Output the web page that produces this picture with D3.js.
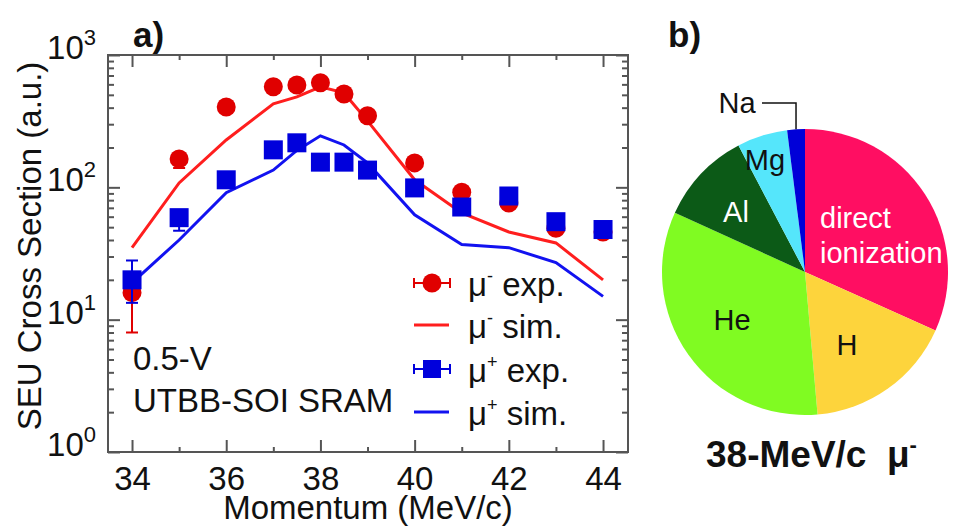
<!DOCTYPE html>
<html>
<head>
<meta charset="utf-8">
<script src="https://cdn.jsdelivr.net/npm/d3@7"></script>
<style>
body { margin: 0; background: #fff; }
text { font-family: Arial, "Liberation Sans", sans-serif; fill: #111; }
</style>
</head>
<body>
<svg id="chart" width="958" height="527"></svg>
<script>
// ---- data ----
const momentum = [34, 35, 36, 37, 37.5, 38, 38.5, 39, 40, 41, 42, 43, 44];

const muMinusExp  = [16, 164, 405, 575, 594, 617, 508, 347, 153, 92, 76, 49, 46];
const muMinusLow  = [8, 140, null, null, null, null, null, null, null, null, null, null, null];
const muMinusHigh = [22, 175, null, null, null, null, null, null, null, null, null, null, null];
const muMinusSim  = [35, 108, 228, 427, 482, 575, 517, 318, 114, 64, 46, 38, 20];

const muPlusExp  = [20, 59, 114, 192, 217, 155, 155, 135, 99, 71, 86, 55, 48];
const muPlusLow  = [13.4, 47, null, null, null, null, null, null, null, null, null, null, null];
const muPlusHigh = [28, 64, null, null, null, null, null, null, null, null, null, null, null];
const muPlusSim  = [19, 40, 91, 135, 190, 245, 209, 153, 62, 37, 35, 27, 15];

const xMajor = [34, 36, 38, 40, 42, 44];
const xMinor = [35, 37, 39, 41, 43];
const yMajor = [1, 10, 100, 1000];
const yExponents = ["0", "1", "2", "3"];

const pieLabels = ["direct ionization", "H", "He", "Al", "Mg", "Na"];
const pieValues = [31.7, 16.9, 33.2, 10.5, 5.7, 2.0];
const pieColors = ["#ff0e62", "#fdd43c", "#80fb22", "#0c5a17", "#55e6fb", "#0000d8"];

const red = "#e00000", redLine = "#ff1e1e";
const blue = "#0000dc", blueLine = "#1212f0";

const svg = d3.select("#chart");

// ---- panel a ----
const plot = {left: 108, right: 628, top: 55, bottom: 452};

const x = d3.scaleLinear().domain([33.49, 44.53]).range([plot.left, plot.right]);
const y = d3.scaleLog().domain([1, 1000]).range([plot.bottom, plot.top]);

let yMinor = [];
[1, 10, 100].forEach(dec => {
	for (let k = 2; k <= 9; k++) yMinor.push(dec * k);
});

function styleAxis(g) {
	g.select(".domain").remove();
	g.selectAll("line").attr("stroke", "#555").attr("stroke-width", 2);
}

svg.append("g")
.attr("transform", `translate(0,${plot.bottom})`)
.call(d3.axisBottom(x).tickValues(xMajor).tickSize(-12).tickPadding(15).tickFormat(d3.format("d")))
.call(styleAxis)
.call(g => g.selectAll("text").style("font-size", "33px").attr("fill", "#111"));

svg.append("g")
.attr("transform", `translate(0,${plot.bottom})`)
.call(d3.axisBottom(x).tickValues(xMinor).tickSize(-5).tickFormat(""))
.call(styleAxis);

svg.append("g")
.attr("transform", `translate(0,${plot.top})`)
.call(d3.axisTop(x).tickValues(xMajor).tickSize(-12).tickFormat(""))
.call(styleAxis);

svg.append("g")
.attr("transform", `translate(0,${plot.top})`)
.call(d3.axisTop(x).tickValues(xMinor).tickSize(-5).tickFormat(""))
.call(styleAxis);

svg.append("g")
.attr("transform", `translate(${plot.left},0)`)
.call(d3.axisLeft(y).tickValues(yMajor).tickSize(-12).tickFormat(""))
.call(styleAxis);

svg.append("g")
.attr("transform", `translate(${plot.left},0)`)
.call(d3.axisLeft(y).tickValues(yMinor).tickSize(-6).tickFormat(""))
.call(styleAxis);

svg.append("g")
.attr("transform", `translate(${plot.right},0)`)
.call(d3.axisRight(y).tickValues(yMajor).tickSize(-12).tickFormat(""))
.call(styleAxis);

svg.append("g")
.attr("transform", `translate(${plot.right},0)`)
.call(d3.axisRight(y).tickValues(yMinor).tickSize(-6).tickFormat(""))
.call(styleAxis);

// y tick labels 10^n
let yLab = svg.append("g").selectAll("text")
.data(yMajor)
.join("text")
.attr("x", 96)
.attr("y", d => y(d) + 4)
.attr("text-anchor", "end")
.style("font-size", "33px");
yLab.append("tspan").text("10");
yLab.append("tspan")
.attr("dy", -14)
.style("font-size", "22px")
.text((d, i) => yExponents[i]);

svg.append("rect")
.attr("x", plot.left)
.attr("y", plot.top)
.attr("width", plot.right - plot.left)
.attr("height", plot.bottom - plot.top)
.attr("fill", "none")
.attr("stroke", "#555")
.attr("stroke-width", 2);

// axis titles
svg.append("text")
.attr("transform", "translate(41,246) rotate(-90)")
.attr("text-anchor", "middle")
.style("font-size", "33px")
.text("SEU Cross Section (a.u.)");

svg.append("text")
.attr("x", (plot.left + plot.right) / 2)
.attr("y", 519)
.attr("text-anchor", "middle")
.style("font-size", "33px")
.text("Momentum (MeV/c)");

svg.append("text")
.attr("x", 133)
.attr("y", 47)
.style("font-size", "35px")
.style("font-weight", "bold")
.text("a)");

// simulation lines
const line = d3.line()
.x(d => x(d[0]))
.y(d => y(d[1]));

svg.append("path")
.datum(d3.zip(momentum, muMinusSim))
.attr("d", line)
.attr("fill", "none")
.attr("stroke", redLine)
.attr("stroke-width", 3);

svg.append("path")
.datum(d3.zip(momentum, muPlusSim))
.attr("d", line)
.attr("fill", "none")
.attr("stroke", blueLine)
.attr("stroke-width", 3);

// error bars
function errorBars(lo, hi, color) {
	let rows = momentum.map((m, i) => ({m: m, lo: lo[i], hi: hi[i]})).filter(d => d.lo != null);
	let g = svg.append("g").attr("stroke", color).attr("stroke-width", 2);
	g.selectAll(".v").data(rows).join("line")
	.attr("x1", d => x(d.m)).attr("x2", d => x(d.m))
	.attr("y1", d => y(d.lo)).attr("y2", d => y(d.hi));
	g.selectAll(".lo").data(rows).join("line")
	.attr("x1", d => x(d.m) - 6).attr("x2", d => x(d.m) + 6)
	.attr("y1", d => y(d.lo)).attr("y2", d => y(d.lo));
	g.selectAll(".hi").data(rows).join("line")
	.attr("x1", d => x(d.m) - 6).attr("x2", d => x(d.m) + 6)
	.attr("y1", d => y(d.hi)).attr("y2", d => y(d.hi));
}

errorBars(muMinusLow, muMinusHigh, red);
svg.append("g")
.selectAll("circle")
.data(d3.zip(momentum, muMinusExp))
.join("circle")
.attr("cx", d => x(d[0]))
.attr("cy", d => y(d[1]))
.attr("r", 9.5)
.attr("fill", red);

errorBars(muPlusLow, muPlusHigh, blue);
svg.append("g")
.selectAll("rect")
.data(d3.zip(momentum, muPlusExp))
.join("rect")
.attr("x", d => x(d[0]) - 9.5)
.attr("y", d => y(d[1]) - 9.5)
.attr("width", 19)
.attr("height", 19)
.attr("fill", blue);

// legend
const legendItems = [
	{sign: "-", label: " exp.", color: red, kind: "circle"},
	{sign: "-", label: " sim.", color: redLine, kind: "line"},
	{sign: "+", label: " exp.", color: blue, kind: "square"},
	{sign: "+", label: " sim.", color: blueLine, kind: "line"}
];
const legendY = [283, 325, 369, 412];

let leg = svg.append("g").selectAll("g")
.data(legendItems)
.join("g")
.attr("transform", (d, i) => `translate(432,${legendY[i]})`)
.each(function(d) {
	let g = d3.select(this);
	if (d.kind == "line") {
		g.append("line").attr("x1", -18).attr("x2", 17)
		.attr("stroke", d.color).attr("stroke-width", 3);
	} else {
		g.append("line").attr("x1", -18).attr("x2", 18)
		.attr("stroke", d.color).attr("stroke-width", 2);
		g.append("line").attr("x1", -18).attr("x2", -18).attr("y1", -5).attr("y2", 5)
		.attr("stroke", d.color).attr("stroke-width", 2);
		g.append("line").attr("x1", 18).attr("x2", 18).attr("y1", -5).attr("y2", 5)
		.attr("stroke", d.color).attr("stroke-width", 2);
		if (d.kind == "circle") {
			g.append("circle").attr("r", 9.5).attr("fill", d.color);
		} else {
			g.append("rect").attr("x", -9).attr("y", -9).attr("width", 18).attr("height", 18).attr("fill", d.color);
		}
	}
	let t = g.append("text").attr("x", 36).attr("y", 13).style("font-size", "33px");
	t.append("tspan").text("μ");
	t.append("tspan").attr("dy", -14).style("font-size", "18px").text(d.sign);
	t.append("tspan").attr("dy", 14).text(d.label);
});

svg.append("text")
.attr("x", 133).attr("y", 370)
.style("font-size", "33px")
.text("0.5-V");
svg.append("text")
.attr("x", 133).attr("y", 412)
.style("font-size", "33px")
.text("UTBB-SOI SRAM");

// ---- panel b ----
const pieCx = 805, pieCy = 272, pieR = 143;

svg.append("text")
.attr("x", 668)
.attr("y", 47)
.style("font-size", "35px")
.style("font-weight", "bold")
.text("b)");

const pie = d3.pie().sort(null).value(d => d);
const arc = d3.arc().innerRadius(0).outerRadius(pieR);
const slices = pie(pieValues);

let pieG = svg.append("g").attr("transform", `translate(${pieCx},${pieCy})`);

pieG.selectAll("path")
.data(slices)
.join("path")
.attr("d", arc)
.attr("fill", (d, i) => pieColors[i]);

// label placement relative to pie centre
const pieText = [
	{lines: ["direct", "ionization"], dx: 15, dy: -44, anchor: "start", color: "#fff"},
	{lines: ["H"], dx: 42, dy: 83, anchor: "middle", color: "#111"},
	{lines: ["He"], dx: -73, dy: 58, anchor: "middle", color: "#111"},
	{lines: ["Al"], dx: -69, dy: -50, anchor: "middle", color: "#fff"},
	{lines: ["Mg"], dx: -40, dy: -102, anchor: "middle", color: "#111"},
	{lines: ["Na"], dx: -68, dy: -159, anchor: "middle", color: "#111"}
];

pieText.forEach((p, i) => {
	let t = pieG.append("text")
	.attr("text-anchor", p.anchor)
	.style("font-size", "29px")
	.style("fill", p.color);
	p.lines.forEach((s, j) => {
		t.append("tspan").attr("x", p.dx).attr("y", p.dy + j * 35).text(s);
	});
});

// leader line from the Na label to its slice
const na = slices[5];
const naMid = (na.startAngle + na.endAngle) / 2;
const naX = pieR * Math.sin(naMid), naY = -pieR * Math.cos(naMid);
pieG.append("path")
.attr("d", `M${-43},${-169}H${naX}V${naY}`)
.attr("fill", "none")
.attr("stroke", "#111")
.attr("stroke-width", 1.5);

let cap = svg.append("text")
.attr("x", 706)
.attr("y", 467)
.style("font-size", "37px")
.style("font-weight", "bold");
cap.append("tspan").text("38-MeV/c\u00a0\u00a0μ");
cap.append("tspan").attr("dy", -15).style("font-size", "22px").text("-");
</script>
</body>
</html>
